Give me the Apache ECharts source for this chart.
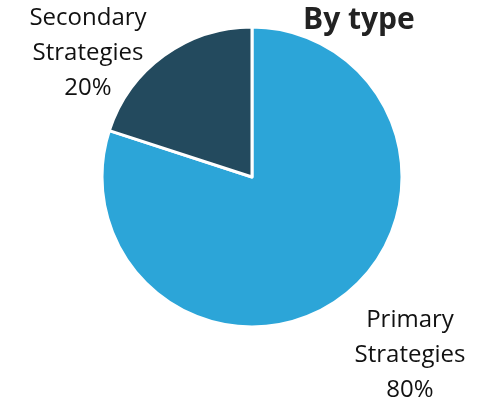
<!DOCTYPE html>
<html><head><meta charset="utf-8">
<script src="https://cdn.jsdelivr.net/npm/echarts@6/dist/echarts.min.js"></script>
<style>html,body{margin:0;padding:0;background:#fff}#c{width:480px;height:403px}</style>
</head><body><div id="c"></div>
<script>
const categories = ["Primary Strategies", "Secondary Strategies"];
const values = [80, 20];
const colors = ["#2CA5D8", "#234A5E"];
const title = "By type";

const chart = echarts.init(document.getElementById('c'), null, {renderer: 'canvas'});
const labelPos = [{x: 410, y: 355}, {x: 88, y: 53}];
chart.setOption({
  animation: false,
  title: {
    text: title, left: 298, top: 0,
    textStyle: {fontFamily: 'Open Sans', fontWeight: 'bold', fontSize: 30, color: '#222'}
  },
  series: [{
    type: 'pie',
    center: [252, 177],
    radius: [0, 150],
    startAngle: 90,
    clockwise: true,
    data: categories.map((n, i) => ({name: n, value: values[i], itemStyle: {color: colors[i]}})),
    itemStyle: {borderColor: '#fff', borderWidth: 3},
    label: {
      show: true,
      position: 'outside',
      formatter: p => p.name.split(' ').join('\n') + '\n' + p.percent.toFixed(0) + '%',
      fontFamily: 'Open Sans', fontSize: 24, lineHeight: 35, color: '#111', align: 'center',
      overflow: 'none', width: 200
    },
    labelLine: {show: false},
    labelLayout: p => ({x: labelPos[p.dataIndex].x, y: labelPos[p.dataIndex].y, align: 'center', verticalAlign: 'middle'})
  }]
});
</script></body></html>
